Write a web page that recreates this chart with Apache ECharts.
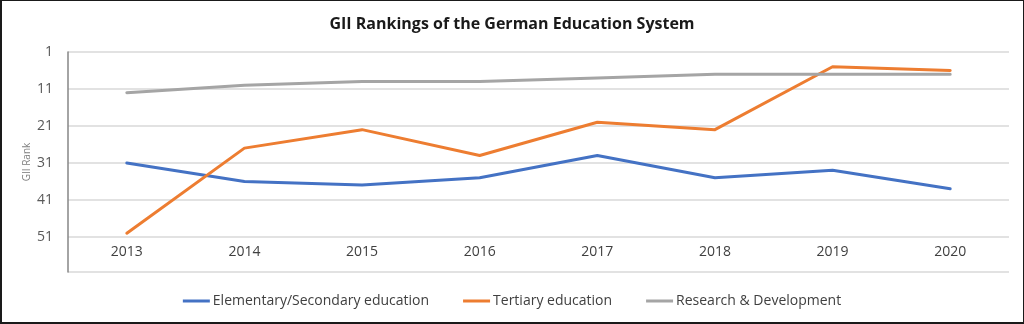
<!DOCTYPE html>
<html>
<head>
<meta charset="utf-8">
<script src="https://cdn.jsdelivr.net/npm/echarts@6/dist/echarts.min.js"></script>
<style>
  html, body { margin: 0; padding: 0; background: #fff; }
  #frame {
    position: absolute; left: 0; top: 0;
    width: 1024px; height: 324px; box-sizing: border-box;
    border-style: solid; border-color: #1a1a1a;
    border-width: 1px 1px 2px 2px;
  }
  #chart { position: absolute; left: 0; top: 0; width: 1024px; height: 324px; }
</style>
</head>
<body>
<div id="chart"></div>
<div id="frame"></div>
<script>
// Years on the category axis
const years = ['2013', '2014', '2015', '2016', '2017', '2018', '2019', '2020'];

// GII rank per year (lower is better)
const elementarySecondary = [31, 36, 37, 35, 29, 35, 33, 38];
const tertiary = [50, 27, 22, 29, 20, 22, 5, 6];
const researchDev = [12, 10, 9, 9, 8, 7, 7, 7];

// Rank axis range and tick step (labels 1, 11, ... 51)
const rankMin = 1;
const rankMax = 60.5;
const rankStep = 10;

const seriesNames = ['Elementary/Secondary education', 'Tertiary education', 'Research & Development'];
const seriesColors = ['#4472C4', '#ED7D31', '#A5A5A5'];
const seriesData = [elementarySecondary, tertiary, researchDev];

const font = '"Open Sans", "Noto Sans", sans-serif';

const chart = echarts.init(document.getElementById('chart'), null, { renderer: 'canvas' });

chart.setOption({
  animation: false,
  backgroundColor: '#ffffff',
  textStyle: { fontFamily: font },
  title: {
    text: 'GII Rankings of the German Education System',
    left: 'center',
    top: 11,
    textStyle: { fontFamily: font, fontSize: 16, fontWeight: 'bold', color: '#1a1a1a' }
  },
  legend: {
    bottom: 11,
    left: 'center',
    icon: 'rect',
    itemWidth: 27,
    itemHeight: 3,
    itemGap: 34,
    textStyle: { fontFamily: font, fontSize: 14, color: '#404040', padding: [0, 0, 0, -2] },
    data: seriesNames
  },
  grid: { left: 68, right: 15, top: 52, bottom: 52 },
  xAxis: {
    type: 'category',
    data: years,
    boundaryGap: true,
    axisLine: { show: false },
    axisTick: { show: false },
    axisLabel: {
      margin: -27,
      fontFamily: font,
      fontSize: 14,
      color: '#404040'
    },
    splitLine: { show: false }
  },
  yAxis: {
    type: 'value',
    inverse: true,
    min: rankMin,
    max: rankMax,
    interval: rankStep,
    name: 'GII Rank',
    nameLocation: 'middle',
    nameGap: 36,
    nameMoveOverlap: false,
    nameTextStyle: { fontFamily: font, fontSize: 10, color: '#7f7f7f' },
    axisLine: { show: true, lineStyle: { color: '#868686', width: 1.5 } },
    axisTick: { show: false },
    axisLabel: {
      margin: 15,
      fontFamily: font,
      fontSize: 14,
      color: '#595959',
      formatter: v => (v === rankMax ? '' : String(v))
    },
    splitLine: { show: true, lineStyle: { color: '#d9d9d9', width: 1.5 } }
  },
  series: seriesNames.map((name, i) => ({
    name: name,
    type: 'line',
    data: seriesData[i],
    symbol: 'none',
    smooth: false,
    color: seriesColors[i],
    lineStyle: { width: 3, color: seriesColors[i], cap: 'round', join: 'round' },
    z: 2 + i
  }))
});
</script>
</body>
</html>
